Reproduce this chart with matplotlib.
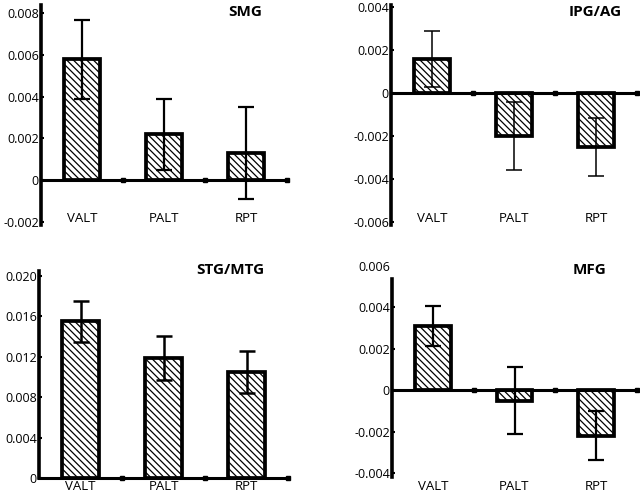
import matplotlib.pyplot as plt
from matplotlib.transforms import blended_transform_factory

plt.rcParams['font.family'] = ['Open Sans', 'DejaVu Sans']
plt.rcParams['hatch.linewidth'] = 0.9

conditions = ['VALT', 'PALT', 'RPT']

smg_mean = [0.0058, 0.0022, 0.0013]
smg_err = [0.0019, 0.0017, 0.0022]
smg_ticks = [-0.002, 0, 0.002, 0.004, 0.006, 0.008]
smg_labels = ['-0.002', '0', '0.002', '0.004', '0.006', '0.008']

ipg_mean = [0.0016, -0.0020, -0.0025]
ipg_err = [0.0013, 0.0016, 0.00135]
ipg_ticks = [-0.006, -0.004, -0.002, 0, 0.002, 0.004]
ipg_labels = ['-0.006', '-0.004', '-0.002', '0', '0.002', '0.004']

stg_mean = [0.0155, 0.0119, 0.0105]
stg_err = [0.0020, 0.0022, 0.0021]
stg_ticks = [0, 0.004, 0.008, 0.012, 0.016, 0.020]
stg_labels = ['0', '0.004', '0.008', '0.012', '0.016', '0.020']

mfg_mean = [0.0031, -0.0005, -0.0022]
mfg_err = [0.00095, 0.0016, 0.0012]
mfg_ticks = [-0.004, -0.002, 0, 0.002, 0.004, 0.006]
mfg_labels = ['-0.004', '-0.002', '0', '0.002', '0.004', '0.006']


def panel(fig, rect, means, errs, ticks, labels, ylim, err_lw,
          label_y, label_va, spine_top=None):
    ax = fig.add_axes(rect)
    x = [1, 2, 3]
    ax.bar(x, means, width=0.44, color='white', edgecolor='black',
           linewidth=2.7, hatch='\\' * 5, zorder=2)
    ax.errorbar(x, means, yerr=errs, fmt='none', ecolor='black',
                elinewidth=err_lw, capsize=6, capthick=err_lw, zorder=3)
    ax.axhline(0, color='black', lw=2.2, zorder=4, clip_on=False)
    ax.plot([1.5, 2.5, 3.5], [0, 0, 0], 's', color='black', ms=2.6,
            zorder=4, clip_on=False)
    ax.set_xlim(0.5, 3.5)
    ax.set_ylim(*ylim)
    for s in ['top', 'right', 'bottom']:
        ax.spines[s].set_visible(False)
    ax.spines['left'].set_linewidth(2.6)
    if spine_top is not None:
        ax.spines['left'].set_bounds(ylim[0], spine_top)
    ax.set_xticks([])
    ax.set_yticks(ticks)
    ax.set_yticklabels(labels)
    ax.tick_params(axis='y', direction='in', length=2.5, width=1.5,
                   labelsize=9, pad=1.5)
    if spine_top is not None:
        ax.yaxis.get_major_ticks()[-1].tick1line.set_visible(False)
    trans = blended_transform_factory(ax.transData, ax.transAxes)
    for xi, name in zip(x, conditions):
        ax.text(xi, label_y, name, transform=trans, ha='center',
                va=label_va, fontsize=9.5, clip_on=False)
    ax.patch.set_visible(False)
    return ax


fig = plt.figure(figsize=(6.4, 4.96), dpi=100)

panel(fig, [41 / 640, 1 - 225 / 496, 246 / 640, 220 / 496],
      smg_mean, smg_err, smg_ticks, smg_labels, (-0.00215, 0.0084), 1.6,
      0.0, 'bottom')
panel(fig, [391 / 640, 1 - 225 / 496, 246 / 640, 220 / 496],
      ipg_mean, ipg_err, ipg_ticks, ipg_labels, (-0.00614, 0.0041), 1.1,
      0.0, 'bottom')
panel(fig, [39 / 640, 1 - 478 / 496, 249 / 640, 207 / 496],
      stg_mean, stg_err, stg_ticks, stg_labels, (0, 0.0205), 1.8,
      -0.012, 'top')
panel(fig, [392 / 640, 1 - 477 / 496, 245 / 640, 215 / 496],
      mfg_mean, mfg_err, mfg_ticks, mfg_labels, (-0.0042, 0.0062), 1.6,
      -0.012, 'top', spine_top=0.0054)

titles = ['SMG', 'IPG/AG', 'STG/MTG', 'MFG']
title_xy = [(245, 12), (595, 12), (230, 270), (590, 270)]
for t, (px, py) in zip(titles, title_xy):
    fig.text(px / 640, 1 - py / 496, t, ha='center', va='center',
             fontsize=11, fontweight='bold')

fig.savefig('out.png', dpi=100)
